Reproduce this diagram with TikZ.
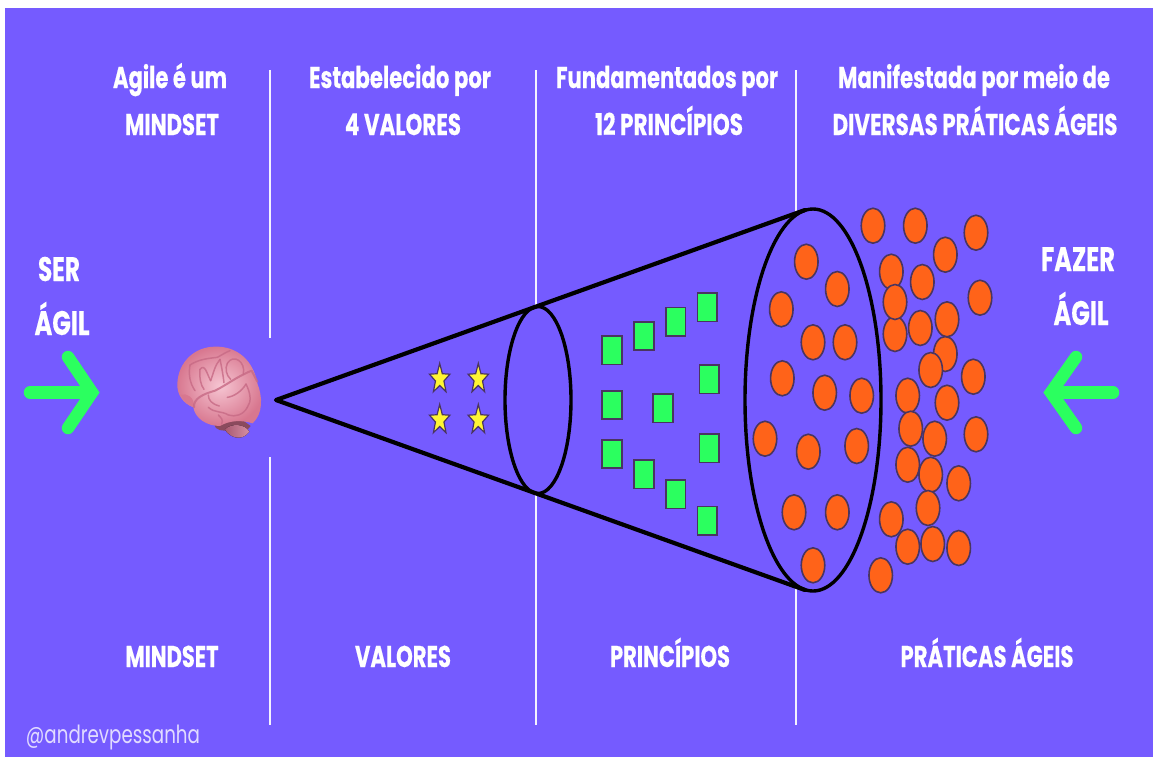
\documentclass[tikz,border=0pt]{standalone}
\usepackage{fontspec}
\usepackage{graphicx}
\setmainfont{Poppins}[BoldFeatures={FakeBold=0.5}]
\usetikzlibrary{shapes.geometric}
\definecolor{bgpurple}{HTML}{755BFF}
\definecolor{arrowgreen}{HTML}{2BFF5F}
\definecolor{dotorange}{HTML}{FF6319}
\definecolor{staryellow}{HTML}{FFF533}
\definecolor{edgedark}{HTML}{4A3560}
\definecolor{gyrus}{HTML}{C76A85}
\definecolor{brainlight}{HTML}{F6C5D2}
\definecolor{brainedge}{HTML}{D8778F}
\newcommand{\fitw}[2]{\resizebox{#1pt}{\height}{\strut #2}}
\tikzset{
  lab/.style={text=white,font=\fontsize{30}{30}\selectfont\bfseries,anchor=base,inner sep=0pt},
  sidelab/.style={text=white,font=\fontsize{34}{34}\selectfont\bfseries,anchor=base,inner sep=0pt},
  credit/.style={text=white!78!bgpurple,font=\fontsize{25}{25}\selectfont,anchor=base,inner sep=0pt},
  divider/.style={white!92!bgpurple,line width=2.2pt},
  conerim/.style={draw=black,line width=3.4pt,ellipse,inner sep=0pt,fill=none},
  coneside/.style={black,line width=4.2pt,line cap=round,line join=round},
  bigarrow/.style={arrowgreen,line width=12.5pt,line cap=round,line join=miter},
  dot/.style={draw=edgedark,line width=1.6pt,fill=dotorange,ellipse,minimum width=23.5pt,minimum height=35pt,inner sep=0pt},
  sq/.style={draw=edgedark,line width=1.6pt,fill=arrowgreen,rectangle,minimum width=19.5pt,minimum height=28.5pt,inner sep=0pt},
  starry/.style={draw=edgedark,line width=1.2pt,fill=staryellow,star,star points=5,star point ratio=2.4,minimum size=29pt,inner sep=0pt,xscale=.74,yscale=1.08,transform shape},
  fold/.style={gyrus,line width=1.5pt,line cap=round,line join=round,opacity=.8},
}
\begin{document}
\begin{tikzpicture}[x=1pt,y=-1pt]
\useasboundingbox (0,0) rectangle (1153,756);
\fill[white] (0,0) rectangle (1153,756);
\fill[bgpurple] (5,8) rectangle (1165,770);

% dividers
\draw[divider] (270,70) -- (270,338);
\draw[divider] (270,457) -- (270,725);
\draw[divider] (536,70) -- (536,306);
\draw[divider] (536,493) -- (536,725);
\draw[divider] (796,70) -- (796,212);
\draw[divider] (796,588) -- (796,725);

% header text
\node[lab] (h1a) at (170,88) {\fitw{114}{Agile é um}};
\node[lab] (h1b) at (172,135) {\fitw{94}{MINDSET}};
\node[lab] (h2a) at (400,88) {\fitw{182}{Estabelecido por}};
\node[lab] (h2b) at (403,135) {\fitw{116}{4 VALORES}};
\node[lab] (h3a) at (667,88) {\fitw{222}{Fundamentados por}};
\node[lab] (h3b) at (669,135) {\fitw{148}{12 PRINCÍPIOS}};
\node[lab] (h4a) at (974,88) {\fitw{272}{Manifestada por meio de}};
\node[lab] (h4b) at (975,135) {\fitw{285}{DIVERSAS PRÁTICAS ÁGEIS}};
% side text
\node[sidelab] (ser) at (59,281) {\fitw{42}{SER}};
\node[sidelab] (agl) at (62,335) {\fitw{55}{ÁGIL}};
\node[sidelab] (faz) at (1078,271) {\fitw{74}{FAZER}};
\node[sidelab] (agr) at (1081,325) {\fitw{55}{ÁGIL}};
% footer text
\node[lab] (f1) at (172,667) {\fitw{93}{MINDSET}};
\node[lab] (f2) at (403,667) {\fitw{96}{VALORES}};
\node[lab] (f3) at (670,667) {\fitw{120}{PRINCÍPIOS}};
\node[lab] (f4) at (987,667) {\fitw{173}{PRÁTICAS ÁGEIS}};
\node[credit] (cr) at (113,743) {\fitw{174}{@andrevpessanha}};

% arrows
\draw[bigarrow] (30,392.5) -- (90,392.5);
\draw[bigarrow] (68,357) -- (92,392.5) -- (68,428);
\draw[bigarrow] (1113,392.5) -- (1053,392.5);
\draw[bigarrow] (1076,357) -- (1051,392.5) -- (1076,428);

% cone
\coordinate (apex) at (276,400);
\coordinate (toprim) at (805,210);
\coordinate (botrim) at (805,590);
\node[conerim,minimum width=66pt,minimum height=187pt] (rimsmall) at (538,400) {};
\node[conerim,minimum width=136pt,minimum height=382pt] (rimlarge) at (813,400) {};
\draw[coneside] (toprim) -- (apex) -- (botrim);

% stars
\foreach \n/\x/\y in {a/439.7/379,b/478.3/379,c/439.7/420,d/478.3/420}
  \node[starry] (star\n) at (\x,\y) {};

% squares
\foreach \n/\x/\y in {1/612/350.3,2/644/336,3/675.7/321.7,4/707.3/307.3,5/709.3/379.3,6/612/405,7/663/408.3,8/612/454,9/709.3/448.3,10/644/474.3,11/675.7/494.3,12/707.3/520.7}
  \node[sq] (sq\n) at (\x,\y) {};

% dots inside the large rim
\foreach \n/\x/\y in {1/806.3/261.7,2/837.3/289,3/781.3/309.3,4/813/342.3,5/845/342.3,6/782.3/378.3,7/824.7/392.7,8/861.7/395.7,9/765/438.7,10/808.3/451.7,11/856.7/446,12/794/512.3,13/837.3/512.3,14/813/565.3}
  \node[dot] (din\n) at (\x,\y) {};

% dots outside (order sets the overlaps)
\foreach \n/\x/\y in {1/873/225.7,2/915.3/225.7,3/976/232.7,4/945.3/254.7,5/891.3/271.7,6/922.3/282,7/980/297.7,8/895/334,9/895/302,10/945.3/354,11/947/319.3,12/920.3/328,13/930.7/370,14/973.3/376.7,15/907.7/395.7,16/947/402.7,17/907.7/464.7,18/910.7/428.7,19/934.7/438.7,20/976/434.3,21/930.7/474.7,22/958.7/483.3,23/928/508,24/891.3/519.3,25/907.7/546.7,26/932.7/544,27/958.7/548,28/880.7/575.3}
  \node[dot] (dot\n) at (\x,\y) {};

% brain
\begin{scope}[shift={(140,320)},x=.3333pt,y=-.3333pt]
  \fill[gyrus!70!black] (222,312) .. controls (225,332) and (250,335) .. (270,330) .. controls (300,335) and (325,335) .. (332,318) -- (300,295) -- cycle;
  \fill[left color=gyrus!85!black,right color=gyrus!75!white] (255,328) .. controls (265,350) and (305,368) .. (328,335) .. controls (315,312) and (275,308) .. (255,328) -- cycle;
  \shade[inner color=brainlight,outer color=brainedge]
    (112,190) .. controls (115,125) and (165,80) .. (225,80)
    .. controls (290,78) and (340,120) .. (352,190)
    .. controls (368,230) and (370,280) .. (338,310)
    .. controls (300,298) and (265,303) .. (240,318)
    .. controls (200,318) and (165,295) .. (160,262)
    .. controls (130,250) and (110,225) .. (112,190) -- cycle;
  \fill[brainedge,opacity=.9] (122,224) .. controls (140,218) and (165,232) .. (162,262) .. controls (140,255) and (128,240) .. (122,224) -- cycle;
  \draw[fold,line width=2pt] (162,262) .. controls (160,235) and (190,222) .. (225,212) .. controls (260,195) and (290,170) .. (335,152) -- (352,185);
  \draw[fold] (150,135) .. controls (145,165) and (150,190) .. (165,212);
  \draw[fold] (150,135) .. controls (175,118) and (205,115) .. (232,112) .. controls (245,105) and (255,98) .. (270,92);
  \draw[fold] (180,148) .. controls (178,175) and (182,195) .. (192,208);
  \draw[fold] (180,148) .. controls (195,130) and (200,160) .. (212,182);
  \draw[fold] (212,182) .. controls (220,160) and (225,135) .. (240,118);
  \draw[fold] (240,118) .. controls (245,140) and (250,170) .. (252,188);
  \draw[fold] (262,130) .. controls (255,145) and (258,165) .. (272,178);
  \draw[fold] (262,130) .. controls (280,100) and (318,125) .. (310,162);
  \draw[fold] (205,262) .. controls (225,280) and (245,272) .. (265,285) .. controls (285,292) and (310,285) .. (322,262);
  \draw[fold] (205,225) .. controls (205,240) and (215,252) .. (238,258);
  \draw[fold] (262,232) .. controls (280,230) and (305,215) .. (318,192);
  \draw[fold] (318,192) .. controls (332,220) and (335,245) .. (322,262);
  \draw[fold] (235,285) .. controls (245,295) and (250,300) .. (245,312);
\end{scope}
\end{tikzpicture}
\end{document}
